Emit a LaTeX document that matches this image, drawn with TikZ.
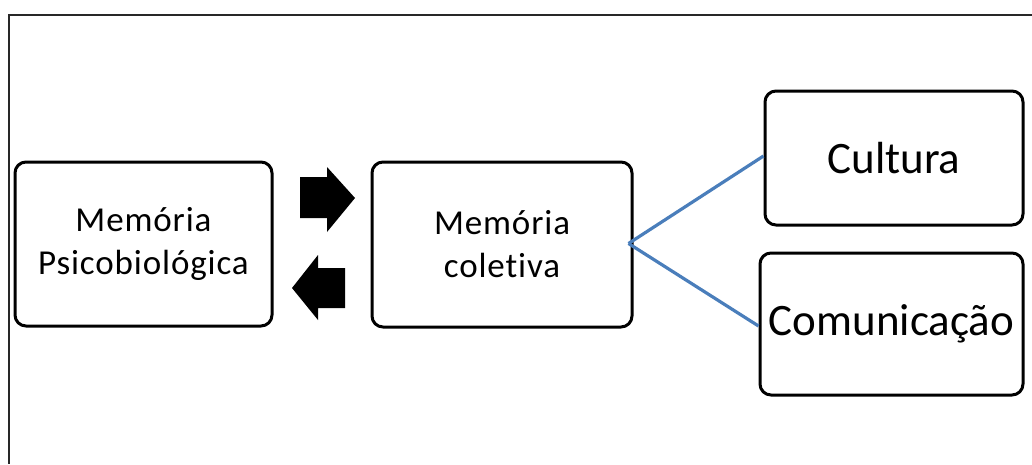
\documentclass[tikz,border=0pt]{standalone}
\usepackage{fontspec}
\setmainfont[Ligatures=NoCommon]{Carlito}
\newfontfamily\spacedfont[Ligatures=NoCommon,LetterSpace=2.5]{Carlito}
\usetikzlibrary{calc}
\definecolor{linkblue}{RGB}{74,126,187}
\definecolor{framegray}{RGB}{40,40,40}
\begin{document}
\begin{tikzpicture}[x=1pt,y=-1pt,
  box/.style={draw=black,line width=3pt,rounded corners=11pt,align=center,inner sep=0pt},
  smalltext/.style={font=\spacedfont\fontsize{35}{43}\selectfont},
  bigtext/.style={font=\fontsize{45}{54}\selectfont},
  link/.style={draw=linkblue,line width=3.2pt},
  blockarrow/.style={fill=black,draw=none}]
\useasboundingbox (0,0) rectangle (1032,464);
% frame along the top and left
\draw[framegray,line width=1.5pt] (1032,15) -- (9,15) -- (9,464);

\node[box,smalltext,minimum width=257pt,minimum height=164pt] (psico) at (143.5,244) {Memória\\Psicobiológica};
\node[box,smalltext,minimum width=260pt,minimum height=165pt] (coletiva) at (502,244.5) {Memória\\coletiva};
\node[box,bigtext,minimum width=258pt,minimum height=134pt] (cultura) at (894,158) {Cultura};
\node[box,bigtext,minimum width=263pt,minimum height=142pt] (comunic) at (891.5,324) {Comunicação};

% block arrows between the two memory boxes
\fill[blockarrow] (300,177) -- (327,177) -- (327,167) -- (355,198) -- (327,232) -- (327,218) -- (300,218) -- cycle;
\fill[blockarrow] (345,268) -- (318,268) -- (318,255) -- (292,288) -- (318,320) -- (318,308) -- (345,308) -- cycle;

% links to the branches
\coordinate (hub) at ($(coletiva.east)+(-5,-1)$);
\draw[link] (hub) -- ([yshift=2pt]cultura.west);
\draw[link] (hub) -- ([yshift=-2pt]comunic.west);
\end{tikzpicture}
\end{document}
